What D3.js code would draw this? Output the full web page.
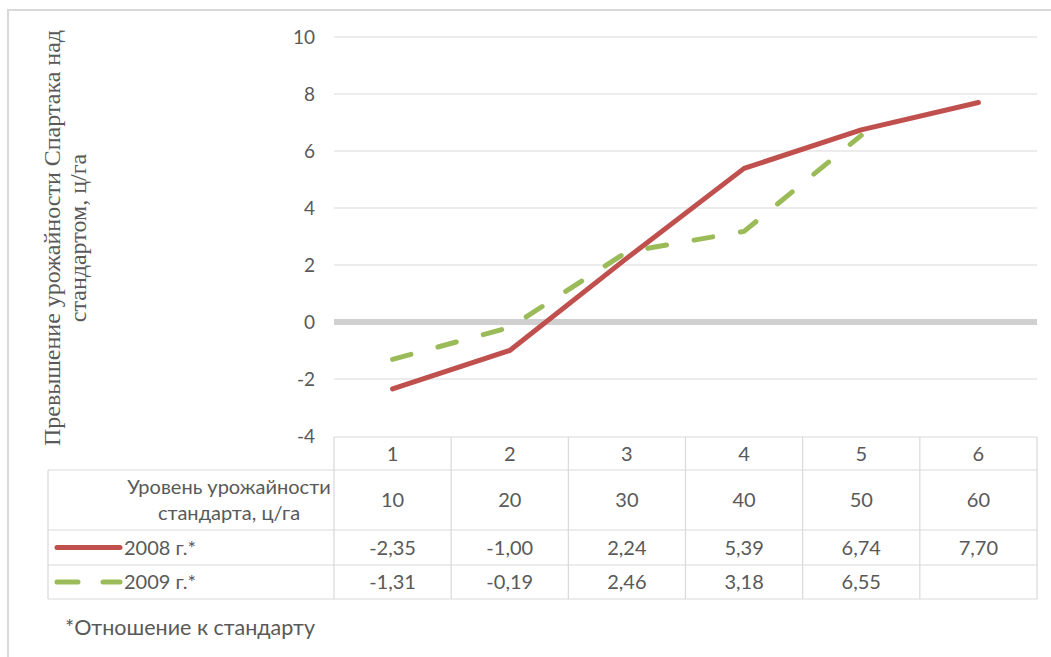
<!DOCTYPE html>
<html><head><meta charset="utf-8">
<script src="https://cdn.jsdelivr.net/npm/d3@7"></script>
<style>body{margin:0;background:#fff}svg{display:block}</style>
</head><body>
<script>
const categories = ["1","2","3","4","5","6"];
const standardLevels = ["10","20","30","40","50","60"];
const series2008 = [-2.35, -1.00, 2.24, 5.39, 6.74, 7.70];
const series2009 = [-1.31, -0.19, 2.46, 3.18, 6.55, null];
const yTicks = [-4, -2, 0, 2, 4, 6, 8, 10];
const seriesNames = ["2008 г.*", "2009 г.*"];
const rowTitle = ["Уровень урожайности", "стандарта, ц/га"];
const yTitle = ["Превышение урожайности Спартака над", "стандартом, ц/га"];
const footnote = "*Отношение к стандарту";

(function(){
const W = 1051, H = 657;
const svg = d3.select("body").append("svg").attr("width", W).attr("height", H);
const textColor = "#595959", gridColor = "#d9d9d9";
const font = "Lato, 'Open Sans', sans-serif";

// frame
svg.append("path").attr("d", `M8,${H+5} L8,10 L${W+5},10`).attr("fill","none").attr("stroke","#d9d9d9").attr("stroke-width",2);

const pLeft = 334, pRight = 1037, pTop = 37, pBottom = 436;
const x = d3.scaleBand().domain(categories).range([pLeft, pRight]);
const y = d3.scaleLinear().domain([-4, 10]).range([pBottom, pTop]);

// gridlines
svg.append("g").selectAll("line").data(yTicks.filter(d => d !== 0 && d !== -4)).join("line")
  .attr("x1", pLeft).attr("x2", pRight).attr("y1", d => y(d)).attr("y2", d => y(d))
  .attr("stroke", gridColor).attr("stroke-width", 1.2);

// zero line
svg.append("line").attr("x1", pLeft).attr("x2", pRight).attr("y1", y(0)).attr("y2", y(0))
  .attr("stroke", "#d0d0d0").attr("stroke-width", 6);

// y axis labels
const yAxis = d3.axisLeft(y).tickValues(yTicks).tickSize(0).tickPadding(0).tickFormat(d => String(d));
const yg = svg.append("g").attr("transform", `translate(315,0)`).call(yAxis);
yg.select(".domain").remove();
yg.selectAll("text").attr("fill", textColor).style("font-family", font).style("font-size", "19px").attr("dy","0.35em");

// y title
const yt = svg.append("text").attr("transform", `translate(0,238) rotate(-90)`)
  .attr("text-anchor", "middle").attr("fill", textColor)
  .style("font-family", "'Liberation Serif', 'Times New Roman', serif").style("font-size", "24px");
yt.append("tspan").attr("x", 0).attr("y", 60).text(yTitle[0]);
yt.append("tspan").attr("x", 0).attr("y", 86).text(yTitle[1]);

// table
const tableLeft = 48;
const rows = [437, 470, 530, 565, 599];
const tg = svg.append("g").attr("stroke", gridColor).attr("stroke-width", 1.2);
tg.append("line").attr("x1", pLeft).attr("x2", pRight).attr("y1", rows[0]).attr("y2", rows[0]);
rows.slice(1).forEach(r => tg.append("line").attr("x1", tableLeft).attr("x2", pRight).attr("y1", r).attr("y2", r));
tg.append("line").attr("x1", tableLeft).attr("x2", tableLeft).attr("y1", rows[1]).attr("y2", rows[4]);
const xEdges = categories.map(c => x(c)).concat([pRight]);
xEdges.forEach(e => tg.append("line").attr("x1", e).attr("x2", e).attr("y1", rows[0]).attr("y2", rows[4]));

const cx = c => x(c) + x.bandwidth() / 2;
function cellRow(vals, ry) {
  svg.append("g").selectAll("text").data(vals).join("text")
    .attr("x", (d, i) => cx(categories[i])).attr("y", ry).attr("dy", "0.35em")
    .attr("text-anchor", "middle").attr("fill", textColor)
    .style("font-family", font).style("font-size", "20px")
    .text(d => d);
}
const fmt = v => v == null ? "" : v.toFixed(2).replace(".", ",");
cellRow(categories, (rows[0] + rows[1]) / 2);
cellRow(standardLevels, (rows[1] + rows[2]) / 2);
cellRow(series2008.map(fmt), (rows[2] + rows[3]) / 2);
cellRow(series2009.map(fmt), (rows[3] + rows[4]) / 2);

// row header
const rh = svg.append("text").attr("text-anchor", "middle").attr("fill", textColor)
  .style("font-family", font).style("font-size", "20px");
rh.append("tspan").attr("x", 229).attr("y", 487).attr("dy", "0.35em").text(rowTitle[0]);
rh.append("tspan").attr("x", 229).attr("y", 513).attr("dy", "0.35em").text(rowTitle[1]);

const red = "#c0504d", green = "#9bbb59";
const dash = "19,28";
// legend keys
const ly1 = (rows[2] + rows[3]) / 2, ly2 = (rows[3] + rows[4]) / 2;
svg.append("line").attr("x1", 57).attr("x2", 120).attr("y1", ly1).attr("y2", ly1)
  .attr("stroke", red).attr("stroke-width", 5).attr("stroke-linecap", "round");
svg.append("line").attr("x1", 57).attr("x2", 120).attr("y1", ly2).attr("y2", ly2)
  .attr("stroke", green).attr("stroke-width", 5).attr("stroke-linecap", "round").attr("stroke-dasharray", "21,25");
svg.append("text").attr("x", 124).attr("y", ly1).attr("dy", "0.35em").attr("fill", textColor)
  .style("font-family", font).style("font-size", "20px").text(seriesNames[0]);
svg.append("text").attr("x", 124).attr("y", ly2).attr("dy", "0.35em").attr("fill", textColor)
  .style("font-family", font).style("font-size", "20px").text(seriesNames[1]);

// lines
const line = d3.line().defined(d => d.v != null).x(d => cx(d.c)).y(d => y(d.v));
svg.append("path").datum(series2008.map((v, i) => ({c: categories[i], v})))
  .attr("d", line).attr("fill", "none").attr("stroke", red).attr("stroke-width", 5)
  .attr("stroke-linejoin", "round").attr("stroke-linecap", "round");
svg.append("path").datum(series2009.map((v, i) => ({c: categories[i], v})))
  .attr("d", line).attr("fill", "none").attr("stroke", green).attr("stroke-width", 5)
  .attr("stroke-linejoin", "round").attr("stroke-linecap", "round").attr("stroke-dasharray", dash);

// footnote
svg.append("text").attr("x", 65).attr("y", 627).attr("dy", "0.35em").attr("fill", textColor)
  .style("font-family", font).style("font-size", "21.5px").text(footnote);
})();
</script>
</body></html>
